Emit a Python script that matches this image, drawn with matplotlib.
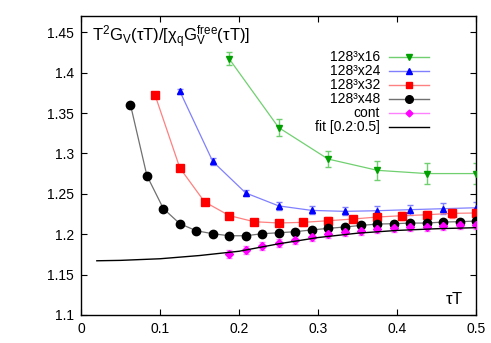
import numpy as np
import matplotlib
matplotlib.use('Agg')
from matplotlib import pyplot as plt
from matplotlib.lines import Line2D
from matplotlib.ticker import FormatStrFormatter

plt.rcParams['font.family'] = ['Liberation Sans', 'DejaVu Sans']
plt.rcParams['mathtext.fontset'] = 'custom'
plt.rcParams['mathtext.rm'] = 'Liberation Sans'
plt.rcParams['mathtext.it'] = 'Liberation Sans'

# --- data (tau T = k / Nt) ---
k16 = [3, 4, 5, 6, 7, 8]
g16 = [1.417, 1.332, 1.293, 1.279, 1.275, 1.275]
e16 = [0.008, 0.010, 0.010, 0.012, 0.013, 0.013]

k24 = [3, 4, 5, 6, 7, 8, 9, 10, 11, 12]
g24 = [1.377, 1.290, 1.251, 1.235, 1.2294, 1.2282, 1.229, 1.2303, 1.2315, 1.2327]
e24 = [0.003, 0.004, 0.004, 0.005, 0.005, 0.005, 0.006, 0.006, 0.007, 0.007]

k32 = [3, 4, 5, 6, 7, 8, 9, 10, 11, 12, 13, 14, 15, 16]
g32 = [1.372, 1.282, 1.240, 1.223, 1.2154, 1.2138, 1.2146, 1.2166, 1.2187,
       1.2212, 1.2228, 1.224, 1.2257, 1.2262]
e32 = [0.002, 0.002, 0.003, 0.003, 0.003, 0.003, 0.004, 0.004, 0.004,
       0.005, 0.005, 0.005, 0.006, 0.006]

k48 = [3, 4, 5, 6, 7, 8, 9, 10, 11, 12, 13, 14, 15, 16, 17, 18, 19, 20, 21, 22, 23, 24]
g48 = [1.3605, 1.2725, 1.2316, 1.2129, 1.2042, 1.2005, 1.198, 1.198, 1.2005,
       1.2017, 1.203, 1.2052, 1.2071, 1.2088, 1.2108, 1.2125, 1.2129, 1.2137,
       1.2137, 1.215, 1.2154, 1.2162]
e48 = [0.002] * 6 + [0.003] * 16

k_cont = [9, 10, 11, 12, 13, 14, 15, 16, 17, 18, 19, 20, 21, 22, 23, 24]
g_cont = [1.1757, 1.1806, 1.1856, 1.1893, 1.1925, 1.197, 1.1998, 1.2022,
          1.2042, 1.2065, 1.2078, 1.2083, 1.2094, 1.2104, 1.211, 1.2115]
e_cont = [0.005] * 16

fit_x = [0.02, 0.05, 0.1, 0.15, 0.2, 0.25, 0.3, 0.35, 0.4, 0.45, 0.5]
fit_y = [1.167, 1.1675, 1.1695, 1.1735, 1.1788, 1.188, 1.1958, 1.2012,
         1.2046, 1.2067, 1.208]

series = [
    ('128³x16', k16, 16, g16, e16, '#00a000', '#70d070', 'v', 5),
    ('128³x24', k24, 24, g24, e24, '#0000ff', '#8080ff', '^', 5),
    ('128³x32', k32, 32, g32, e32, '#ff0000', '#ff8080', 's', 5.5),
    ('128³x48', k48, 48, g48, e48, '#000000', '#707070', 'o', 6),
    ('cont', k_cont, 48, g_cont, e_cont, '#ff00ff', '#ff80ff', 'D', 4),
]

fig = plt.figure(figsize=(4.91, 3.43), dpi=100)
ax = fig.add_axes([0.165, 0.082, 0.805, 0.871])

handles = []
for label, k, nt, g, e, col, light, mk, ms in series:
    tau = np.array(k) / nt
    if label != 'cont':
        ax.plot(tau, g, color=light, lw=0.9, zorder=2)
    ax.errorbar(tau, g, yerr=e, fmt='none', ecolor=light, elinewidth=1.0,
                capsize=2.5, capthick=1.0, zorder=2)
    ax.plot(tau, g, linestyle='none', marker=mk, color=col, ms=ms, zorder=3)
    handles.append(Line2D([], [], color=light, lw=1.0, marker=mk,
                          markerfacecolor=col, markeredgecolor=col, ms=ms - 0.5,
                          label=label))

ax.plot(fit_x, fit_y, color='black', lw=1.0, zorder=4)
handles.append(Line2D([], [], color='black', lw=1.0, label='fit [0.2:0.5]'))

ax.set_xlim(0, 0.5)
ax.set_ylim(1.1, 1.47)
ax.set_xticks([0, 0.1, 0.2, 0.3, 0.4, 0.5])
ax.set_yticks([1.1, 1.15, 1.2, 1.25, 1.3, 1.35, 1.4, 1.45])
ax.xaxis.set_major_formatter(FormatStrFormatter('%g'))
ax.yaxis.set_major_formatter(FormatStrFormatter('%g'))
ax.tick_params(direction='in', top=True, right=True, labelsize=10, length=4, pad=5)
for s in ax.spines.values():
    s.set_linewidth(1.0)

ax.text(0.028, 0.975, r'$\mathrm{T^2G_V(\tau T)/[\chi_qG_V^{free}(\tau T)]}$',
        transform=ax.transAxes, ha='left', va='top', fontsize=12)
ax.text(0.967, 0.035, r'$\mathrm{\tau T}$', transform=ax.transAxes,
        ha='right', va='baseline', fontsize=12)

ax.legend(handles=handles, loc='upper right', bbox_to_anchor=(0.88, 0.885),
          frameon=False, markerfirst=False, fontsize=10, handlelength=2.9,
          handletextpad=0.6, labelspacing=0.0, borderpad=0, borderaxespad=0)

fig.savefig('out.png', dpi=100)
